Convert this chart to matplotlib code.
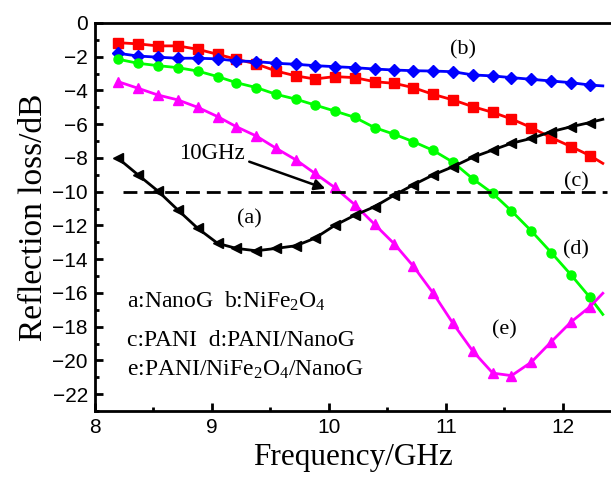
import matplotlib
matplotlib.use("Agg")
import matplotlib.pyplot as plt
from matplotlib.ticker import MultipleLocator

plt.rcParams['mathtext.fontset'] = 'custom'
plt.rcParams['mathtext.rm'] = 'Liberation Serif'
plt.rcParams['mathtext.it'] = 'Liberation Serif:italic'

# frequency of each marked point (GHz); the last one is the unmarked line end
freq = [8.20, 8.37, 8.54, 8.71, 8.88, 9.05, 9.21, 9.38, 9.55, 9.72, 9.88,
        10.05, 10.22, 10.39, 10.56, 10.72, 10.89, 11.06, 11.23, 11.40,
        11.56, 11.73, 11.90, 12.07, 12.23, 12.34]

rl_a = [-8.02, -9.0, -9.96, -11.08, -12.17, -13.06, -13.36, -13.5, -13.36,
        -13.2, -12.76, -12.0, -11.4, -10.89, -10.2, -9.6, -9.01, -8.52,
        -7.96, -7.53, -7.13, -6.84, -6.44, -6.15, -5.9, -5.71]
rl_b = [-1.80, -1.96, -2.03, -2.09, -2.09, -2.13, -2.25, -2.29, -2.39,
        -2.45, -2.53, -2.59, -2.65, -2.73, -2.79, -2.83, -2.85, -2.89,
        -3.08, -3.14, -3.24, -3.34, -3.44, -3.54, -3.68, -3.73]
rl_c = [-1.17, -1.24, -1.36, -1.36, -1.56, -1.86, -2.15, -2.43, -2.85,
        -3.14, -3.32, -3.18, -3.24, -3.48, -3.58, -3.83, -4.23, -4.56,
        -4.96, -5.30, -5.69, -6.20, -6.80, -7.33, -7.86, -8.32]
rl_d = [-2.15, -2.39, -2.53, -2.65, -2.85, -3.18, -3.54, -3.83, -4.23,
        -4.52, -4.86, -5.22, -5.59, -6.2, -6.6, -7.03, -7.55, -8.25,
        -9.24, -10.1, -11.14, -12.33, -13.61, -14.94, -16.26, -17.27]
rl_e = [-3.48, -3.87, -4.27, -4.56, -5.00, -5.55, -6.15, -6.70, -7.43,
        -8.12, -8.91, -9.75, -10.76, -11.93, -13.10, -14.40, -16.0, -17.8,
        -19.45, -20.75, -20.9, -20.1, -18.89, -17.71, -16.82, -16.02]

series = [
    (rl_c, '#ff0000', 's', 6.5),
    (rl_b, '#0000ff', 'D', 6),
    (rl_d, '#00ff00', 'o', 6.5),
    (rl_e, '#ff00ff', '^', 7),
    (rl_a, 'black', '<', 7),
]

fig = plt.figure(figsize=(6.11, 4.78), dpi=100)
ax = fig.add_axes([0.155, 0.140, 0.845, 0.812])

for vals, col, mk, ms in series:
    ax.plot(freq, vals, color=col, lw=2, marker=mk, ms=ms,
            markevery=slice(0, len(freq) - 1), mec=col, mfc=col)

ax.plot([8.24, 12.38], [-10, -10], color='black', lw=2, dashes=(5, 2.5))

serif = 'Liberation Serif'
ax.text(11.15, -1.6, '(b)', fontsize=16, family=serif, ha='center', va='center')
ax.text(12.11, -9.4, '(c)', fontsize=16, family=serif, ha='center', va='center')
ax.text(12.11, -13.46, '(d)', fontsize=16, family=serif, ha='center', va='center')
ax.text(11.50, -18.2, '(e)', fontsize=16, family=serif, ha='center', va='center')
ax.text(9.32, -11.58, '(a)', fontsize=16, family=serif, ha='center', va='center')
ax.text(9.0, -7.73, '10GHz', fontsize=16.5, family=serif, ha='center', va='center')
ax.annotate('', xy=(9.97, -9.82), xytext=(9.32, -8.22),
            arrowprops=dict(arrowstyle='-|>', color='black', lw=1.8,
                            mutation_scale=16, shrinkA=0, shrinkB=0))

ax.text(8.28, -16.52, 'a:NanoG  b:NiFe$_2$O$_4$', fontsize=17, family=serif, va='center')
ax.text(8.28, -18.79, 'c:PANI  d:PANI/NanoG', fontsize=17, family=serif, va='center')
ax.text(8.28, -20.57, 'e:PANI/NiFe$_2$O$_4$/NanoG', fontsize=17, family=serif, va='center')

ax.set_xlim(8, 12.41)
ax.set_ylim(-23, 0)
ax.xaxis.set_major_locator(MultipleLocator(1))
ax.xaxis.set_minor_locator(MultipleLocator(0.5))
ax.yaxis.set_major_locator(MultipleLocator(2))
ax.yaxis.set_minor_locator(MultipleLocator(1))
ax.tick_params(which='both', direction='in', width=2, top=False, right=False)
ax.tick_params(which='major', length=6, labelsize=15, pad=5)
ax.tick_params(which='minor', length=3)
for lab in ax.get_xticklabels() + ax.get_yticklabels():
    lab.set_family('Liberation Sans')
for s in ['left', 'bottom', 'top']:
    ax.spines[s].set_linewidth(2)
ax.spines['right'].set_visible(False)

ax.set_xlabel('Frequency/GHz', fontsize=22.5, family=serif, labelpad=4)
ax.set_ylabel('Reflection loss/dB', fontsize=24, family=serif, labelpad=2)

fig.savefig('out.png', dpi=100)
